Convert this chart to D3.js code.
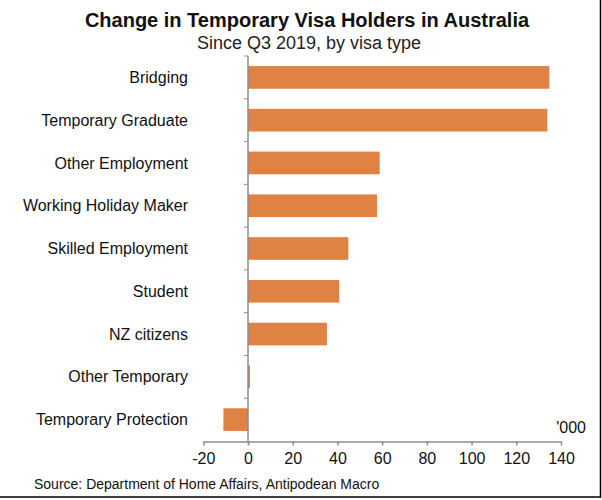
<!DOCTYPE html>
<html><head><meta charset="utf-8">
<script src="https://cdn.jsdelivr.net/npm/d3@7"></script>
<style>body{margin:0;background:#fff}svg{display:block;font-family:"Liberation Sans",Arial,sans-serif}</style>
</head><body><svg id="c" width="602" height="500"></svg>
<script>
const categories = ["Bridging","Temporary Graduate","Other Employment","Working Holiday Maker","Skilled Employment","Student","NZ citizens","Other Temporary","Temporary Protection"];
const values = [134.8, 133.9, 58.9, 57.7, 44.9, 40.8, 35.3, 0.9, -11.0];
const xTicks = [-20,0,20,40,60,80,100,120,140];

const svg = d3.select("#c");
const x = d3.scaleLinear().domain([-20,140]).range([203.3,561]);
const y = d3.scaleBand().domain(categories).range([56,441]).paddingInner(0.47).paddingOuter(0.235);
const grey = "#8c8c8c";
const barColor = "#df8244";

svg.append("text").attr("x",307).attr("y",27).attr("text-anchor","middle")
  .attr("font-size",20).attr("font-weight","bold").attr("fill","#111").text("Change in Temporary Visa Holders in Australia");
svg.append("text").attr("x",309).attr("y",49).attr("text-anchor","middle")
  .attr("font-size",18).attr("fill","#222").text("Since Q3 2019, by visa type");

svg.append("g").selectAll("rect").data(values).join("rect")
  .attr("x",d=>x(Math.min(0,d))).attr("width",d=>Math.abs(x(d)-x(0)))
  .attr("y",(d,i)=>y(categories[i])).attr("height",y.bandwidth())
  .attr("fill",barColor);

// x axis
const xa = svg.append("g").attr("transform","translate(0,441.5)")
  .call(d3.axisBottom(x).tickValues(xTicks).tickSize(4).tickSizeOuter(0).tickPadding(6).tickFormat(d=>String(d)));
xa.select(".domain").attr("stroke",grey).attr("stroke-width",1.5);
xa.selectAll(".tick line").attr("stroke",grey).attr("stroke-width",1.5);
xa.selectAll(".tick text").attr("font-size",16).attr("fill","#111").attr("font-family","Liberation Sans, Arial, sans-serif").attr("dy","0.75em").attr("y",10);

// y axis line at zero with ticks between categories
const step = y.step();
const yTickPos = d3.range(categories.length+1).map(i=>56 + i*step);
svg.append("line").attr("x1",x(0)).attr("x2",x(0)).attr("y1",56).attr("y2",441.5).attr("stroke",grey).attr("stroke-width",1.5);
svg.append("g").selectAll("line").data(yTickPos.slice(0,-1)).join("line")
  .attr("x1",x(0)-4).attr("x2",x(0)).attr("y1",d=>d).attr("y2",d=>d).attr("stroke",grey).attr("stroke-width",1);

// category labels
svg.append("g").selectAll("text").data(categories).join("text")
  .attr("x",188).attr("y",d=>y(d)+y.bandwidth()/2).attr("dy","0.35em")
  .attr("text-anchor","end").attr("font-size",16).attr("fill","#111").text(d=>d);

svg.append("text").attr("x",586).attr("y",433).attr("text-anchor","end").attr("font-size",16).attr("fill","#111").text("'000");
svg.append("text").attr("x",34).attr("y",489).attr("font-size",14).attr("fill","#111").text("Source: Department of Home Affairs, Antipodean Macro");

// frame
svg.append("line").attr("x1",600.5).attr("x2",600.5).attr("y1",0).attr("y2",497.5).attr("stroke","#000").attr("stroke-width",1.5);
svg.append("line").attr("x1",0).attr("x2",601).attr("y1",497).attr("y2",497).attr("stroke","#000").attr("stroke-width",1.5);
</script></body></html>
